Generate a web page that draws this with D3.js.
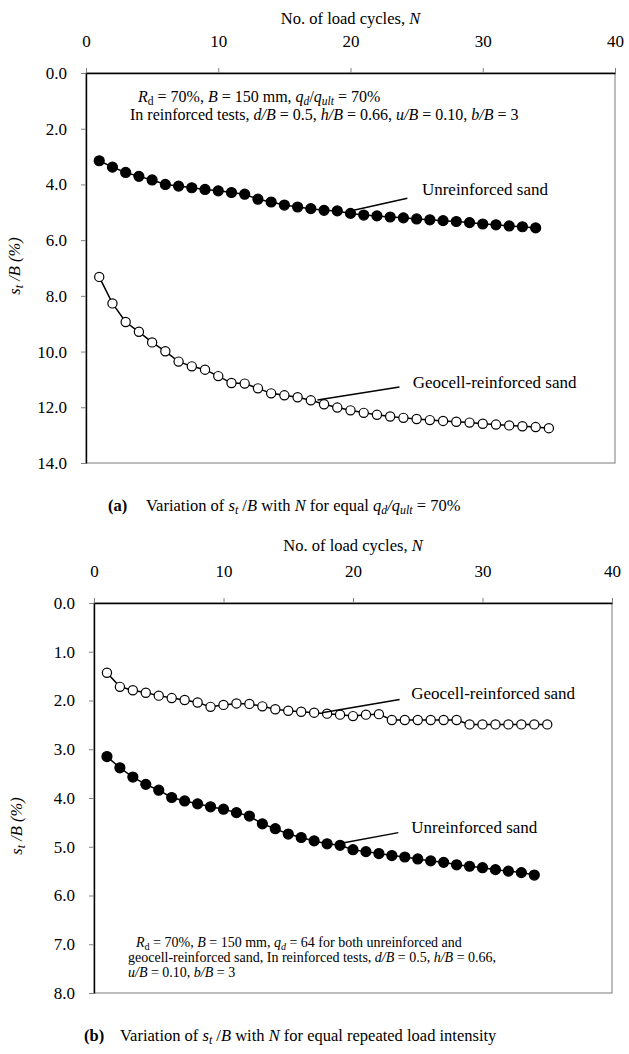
<!DOCTYPE html>
<html>
<head>
<meta charset="utf-8">
<script src="https://cdn.jsdelivr.net/npm/d3@7"></script>
<style>
body { margin: 0; background: #fff; }
text { font-family: "Liberation Serif", "Times New Roman", serif; fill: #000; }
</style>
</head>
<body>
<div id="chart"></div>
<script>
//Data
var cycles = [1, 2, 3, 4, 5, 6, 7, 8, 9, 10, 11, 12, 13, 14, 15, 16, 17, 18, 19, 20,
    21, 22, 23, 24, 25, 26, 27, 28, 29, 30, 31, 32, 33, 34, 35];

//(a) equal qd/qult = 70%
var unreinforcedA = [3.15, 3.38, 3.57, 3.71, 3.84, 4.00, 4.06, 4.12, 4.18, 4.23, 4.29, 4.35, 4.53, 4.63, 4.74, 4.81,
    4.87, 4.93, 4.95, 5.04, 5.10, 5.13, 5.17, 5.20, 5.24, 5.27, 5.30, 5.33, 5.37, 5.42, 5.45, 5.49, 5.52, 5.56];
var geocellA = [7.32, 8.27, 8.94, 9.29, 9.67, 9.99, 10.36, 10.53, 10.65, 10.88, 11.13, 11.15, 11.32, 11.50, 11.57,
    11.64, 11.75, 11.89, 12.01, 12.11, 12.20, 12.27, 12.33, 12.38, 12.42, 12.46, 12.49, 12.52, 12.55, 12.59,
    12.62, 12.65, 12.68, 12.71, 12.75];

//(b) equal repeated load intensity
var unreinforcedB = [3.15, 3.38, 3.57, 3.72, 3.84, 3.99, 4.06, 4.12, 4.18, 4.23, 4.30, 4.37, 4.53, 4.63, 4.74, 4.81,
    4.88, 4.94, 4.97, 5.06, 5.10, 5.14, 5.18, 5.21, 5.25, 5.29, 5.32, 5.37, 5.40, 5.43, 5.47, 5.50, 5.53, 5.58];
var geocellB = [1.43, 1.72, 1.79, 1.84, 1.90, 1.95, 1.99, 2.04, 2.13, 2.09, 2.06, 2.07, 2.12, 2.18, 2.21, 2.23,
    2.25, 2.27, 2.29, 2.32, 2.29, 2.28, 2.40, 2.40, 2.40, 2.40, 2.40, 2.40, 2.49, 2.49, 2.49, 2.49, 2.49, 2.49, 2.49];

var xTicks = [0, 10, 20, 30, 40];
var yTicksA = [0, 2, 4, 6, 8, 10, 12, 14];
var yTicksB = [0, 1, 2, 3, 4, 5, 6, 7, 8];

var svgWidth = 629;
var svgHeight = 1054;

var svg = d3.select("#chart").append("svg")
    .attr("width", svgWidth)
    .attr("height", svgHeight);

//text with italic / subscript / bold pieces
function richText(g, x, y, parts, size, anchor) {
    var t = g.append("text")
        .attr("x", x)
        .attr("y", y)
        .attr("text-anchor", anchor || "start")
        .style("font-size", size + "px");
    var shifted = 0;
    parts.forEach(function(p) {
        var f = p[1] || "";
        var s = t.append("tspan").text(p[0]);
        if (f.indexOf("i") >= 0) s.style("font-style", "italic");
        if (f.indexOf("b") >= 0) s.style("font-weight", "bold");
        var want = f.indexOf("s") >= 0 ? size * 0.2 : 0;
        if (want != shifted) s.attr("dy", want - shifted);
        shifted = want;
        if (want) s.style("font-size", (size * 0.72) + "px");
    });
    return t;
}

function drawPanel(p) {
    var x = d3.scaleLinear().domain([0, 40]).range([p.left, p.right]);
    var y = d3.scaleLinear().domain([0, p.yMax]).range([p.top, p.bottom]);

    //plot area border
    svg.append("rect")
        .attr("x", p.left)
        .attr("y", p.top)
        .attr("width", p.right - p.left)
        .attr("height", p.bottom - p.top)
        .attr("fill", "none")
        .attr("stroke", "#9a9a9a")
        .attr("stroke-width", 1.3);

    var topAxis = d3.axisTop(x).tickValues(xTicks).tickSize(5).tickSizeOuter(0).tickPadding(21);
    var leftAxis = d3.axisLeft(y).tickValues(p.yTicks).tickSize(5).tickSizeOuter(0).tickPadding(14)
        .tickFormat(d3.format(".1f"));

    var gx = svg.append("g")
        .attr("transform", `translate(0, ${p.top})`)
        .call(topAxis);
    var gy = svg.append("g")
        .attr("transform", `translate(${p.left}, 0)`)
        .call(leftAxis);

    [gx, gy].forEach(function(g) {
        g.select(".domain").attr("stroke", "#000").attr("stroke-width", 1.4);
        g.selectAll(".tick line").attr("stroke", "#808080").attr("stroke-width", 1);
        g.selectAll(".tick text")
            .style("font-family", "'Liberation Serif', serif")
            .style("font-size", "17px")
            .attr("fill", "#000");
    });

    //axis titles
    richText(svg, (p.left + p.right) / 2, p.titleY, [["No. of load cycles, "], ["N", "i"]], 16.5, "middle");
    var yl = svg.append("g")
        .attr("transform", `translate(${p.yLabelX}, ${p.yLabelY}) rotate(-90)`);
    richText(yl, 0, 0, [["s", "i"], ["t", "is"], [" /B (%)", "i"]], 16.5, "middle");

    var line = d3.line()
        .x((d, i) => x(cycles[i]))
        .y(d => y(d));

    p.series.forEach(function(s) {
        svg.append("path")
            .datum(s.values)
            .attr("d", line)
            .attr("fill", "none")
            .attr("stroke", "#000")
            .attr("stroke-width", 1.5);
        svg.append("g").selectAll("circle")
            .data(s.values)
            .enter()
            .append("circle")
            .attr("cx", (d, i) => x(cycles[i]))
            .attr("cy", d => y(d))
            .attr("r", s.filled ? 5 : 4.6)
            .attr("fill", s.filled ? "#000" : "#fff")
            .attr("stroke", "#000")
            .attr("stroke-width", 1.2);
    });

    //series labels with leader lines
    p.labels.forEach(function(l) {
        svg.append("line")
            .attr("x1", x(l.from[0])).attr("y1", y(l.from[1]))
            .attr("x2", x(l.to[0])).attr("y2", y(l.to[1]))
            .attr("stroke", "#000")
            .attr("stroke-width", 1.5);
        svg.append("text")
            .attr("x", x(l.at[0]))
            .attr("y", y(l.at[1]))
            .style("font-size", "17px")
            .text(l.text);
    });

    //test conditions
    p.notes.forEach(function(n) {
        richText(svg, n.x, n.y, n.parts, p.noteSize);
    });
}

drawPanel({
    left: 86, right: 615, top: 73, bottom: 463, yMax: 14, yTicks: yTicksA,
    titleY: 24, yLabelX: 20, yLabelY: 266, noteSize: 16,
    series: [
        {values: unreinforcedA, filled: true},
        {values: geocellA, filled: false}
    ],
    labels: [
        {text: "Unreinforced sand", from: [19.9, 4.96], to: [24.3, 4.5], at: [25.4, 4.38]},
        {text: "Geocell-reinforced sand", from: [17.5, 11.74], to: [23.7, 11.27], at: [24.7, 11.3]}
    ],
    notes: [
        {x: 138, y: 102, parts: [["R", "i"], ["d", "s"], [" = 70%, "], ["B", "i"], [" = 150 mm, "], ["q", "i"], ["d", "is"],
            ["/"], ["q", "i"], ["ult", "is"], [" = 70%"]]},
        {x: 130, y: 120, parts: [["In reinforced tests, "], ["d/B", "i"], [" = 0.5, "], ["h/B", "i"], [" = 0.66, "],
            ["u/B", "i"], [" = 0.10, "], ["b/B", "i"], [" = 3"]]}
    ]
});

drawPanel({
    left: 94, right: 612, top: 603, bottom: 993, yMax: 8, yTicks: yTicksB,
    titleY: 551, yLabelX: 22, yLabelY: 826, noteSize: 14,
    series: [
        {values: geocellB, filled: false},
        {values: unreinforcedB, filled: true}
    ],
    labels: [
        {text: "Geocell-reinforced sand", from: [17.6, 2.25], to: [23.6, 1.98], at: [24.5, 1.96]},
        {text: "Unreinforced sand", from: [19.3, 4.92], to: [23.5, 4.71], at: [24.5, 4.71]}
    ],
    notes: [
        {x: 136, y: 947, parts: [["R", "i"], ["d", "s"], [" = 70%, "], ["B", "i"], [" = 150 mm, "], ["q", "i"], ["d", "is"],
            [" = 64 for both unreinforced and"]]},
        {x: 128, y: 962, parts: [["geocell-reinforced sand, In reinforced tests, "], ["d/B", "i"], [" = 0.5, "],
            ["h/B", "i"], [" = 0.66,"]]},
        {x: 128, y: 977, parts: [["u/B", "i"], [" = 0.10, "], ["b/B", "i"], [" = 3"]]}
    ]
});

//captions
richText(svg, 108, 511, [["(a)", "b"]], 16.5);
richText(svg, 146, 511, [["Variation of "], ["s", "i"], ["t", "is"], [" /"], ["B", "i"], [" with "], ["N", "i"],
    [" for equal "], ["q", "i"], ["d", "is"], ["/", "i"], ["q", "i"], ["ult", "is"], [" = 70%"]], 16.5);
richText(svg, 84, 1041, [["(b)", "b"]], 16.5);
richText(svg, 120, 1041, [["Variation of "], ["s", "i"], ["t", "is"], [" /"], ["B", "i"], [" with "], ["N", "i"],
    [" for equal repeated load intensity"]], 16.5);
</script>
</body>
</html>
